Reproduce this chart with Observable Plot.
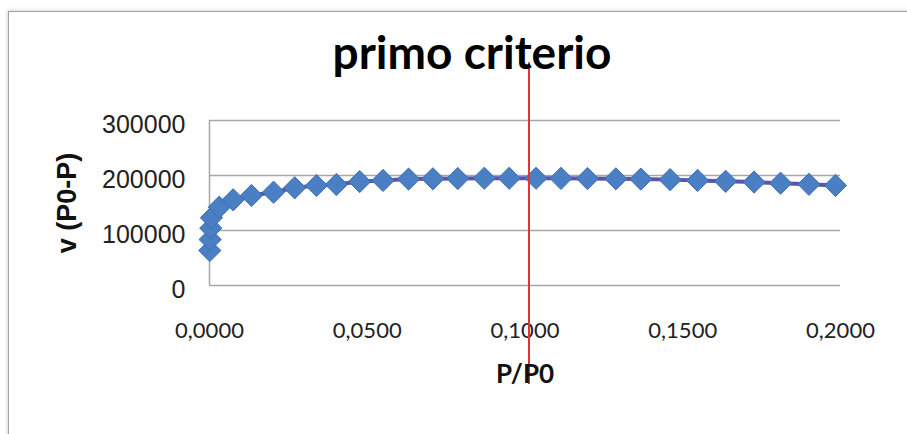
<!DOCTYPE html>
<html>
<head>
<meta charset="utf-8">
<script src="https://cdn.jsdelivr.net/npm/d3@7"></script>
<script src="https://cdn.jsdelivr.net/npm/@observablehq/plot@0.6"></script>
<style>
  html, body { margin: 0; padding: 0; background: #fff; }
  #wrap { position: relative; width: 907px; height: 434px; overflow: hidden; background: #fff; }
  #border { position: absolute; left: 8px; top: 11px; width: 960px; height: 480px;
            border: 1.5px solid #a3a3a3; box-shadow: -1px -1px 3px rgba(0,0,0,0.15); }
  #chart { position: absolute; left: 0; top: 0; }
</style>
</head>
<body>
<div id="wrap"><div id="border"></div><div id="chart"></div></div>
<script>
const titleText = "primo criterio";
const xLabel = "P/P0";
const yLabel = "v (P0-P)";

// P/P0 values
const pp = [0.0001, 0.0002, 0.0004, 0.0006, 0.0031, 0.0075, 0.0133, 0.0203, 0.0270, 0.0339,
            0.0402, 0.0476, 0.0550, 0.0631, 0.0708, 0.0787, 0.0871, 0.0950, 0.1035, 0.1114,
            0.1198, 0.1288, 0.1367, 0.1460, 0.1547, 0.1636, 0.1726, 0.1810, 0.1900, 0.1984];
// v (P0-P) values
const v  = [63600, 83600, 104200, 123100, 142400, 155800, 163600, 169600, 177600, 181800,
            183600, 189000, 191000, 193500, 194000, 194500, 195000, 195000, 195000, 194800,
            194500, 194000, 193500, 192500, 191000, 189500, 188000, 186000, 184000, 182000];

const xTicks = [0, 0.05, 0.1, 0.15, 0.2];
const yTicks = [0, 100000, 200000, 300000];
const xTickLabels = ["0,0000", "0,0500", "0,1000", "0,1500", "0,2000"];
const yTickLabels = ["0", "100000", "200000", "300000"];

// vertical red reference line at P/P0 = 0.1 (extends beyond the plot frame)
const refX = [0.1];
const refFrom = 405000;
const refTo = -180000;

const data = pp.map((x, i) => ({x, y: v[i]}));
const xt = xTicks.map((t, i) => ({t, s: xTickLabels[i]}));
const yt = yTicks.map((t, i) => ({t, s: yTickLabels[i]}));

const chart = Plot.plot({
  width: 907,
  height: 434,
  marginLeft: 209,
  marginRight: 67,
  marginTop: 120,
  marginBottom: 149,
  x: {domain: [0, 0.2], axis: null},
  y: {domain: [0, 300000], axis: null},
  style: {background: "transparent", overflow: "visible"},
  marks: [
    Plot.gridY(yTicks, {stroke: "#a6a6a6", strokeOpacity: 1, strokeWidth: 1.5}),
    Plot.ruleX([0], {stroke: "#a6a6a6", strokeWidth: 1.5}),
    Plot.text(yt, {y: "t", text: "s", frameAnchor: "left", textAnchor: "end", dx: -24, dy: 4,
                   fontSize: 25, fill: "#222", fontFamily: "Liberation Sans, Arial, sans-serif"}),
    Plot.text(xt, {x: "t", text: "s", frameAnchor: "bottom", lineAnchor: "middle", dy: 45,
                   fontSize: 22, fill: "#222", fontFamily: "Lato, sans-serif"}),
    Plot.line(data, {x: "x", y: "y", stroke: "#5a55a6", strokeWidth: 4}),
    Plot.dot(data, {x: "x", y: "y", symbol: "diamond2", r: 10, fill: "#4a7fc4",
                    stroke: "#3f6db3", strokeWidth: 1}),
    Plot.ruleX(refX, {y1: refFrom, y2: refTo, stroke: "#e8332c", strokeWidth: 2, dx: 4}),
    Plot.text([titleText], {frameAnchor: "top", lineAnchor: "bottom", dy: -52, dx: -53, text: d => d,
                fontSize: 46, fontWeight: "bold", fontFamily: "Lato, sans-serif", fill: "#000"}),
    Plot.text([xLabel], {frameAnchor: "bottom", lineAnchor: "middle", dy: 89, text: d => d, fontSize: 26,
                fontWeight: "bold", fontFamily: "Lato, sans-serif", fill: "#111"}),
    Plot.text([yLabel], {frameAnchor: "left", textAnchor: "middle", dx: -142, rotate: -90, text: d => d,
                fontSize: 27, fontWeight: "bold", fontFamily: "Liberation Sans, Arial, sans-serif",
                fill: "#111"})
  ]
});
document.getElementById("chart").appendChild(chart);
</script>
</body>
</html>
